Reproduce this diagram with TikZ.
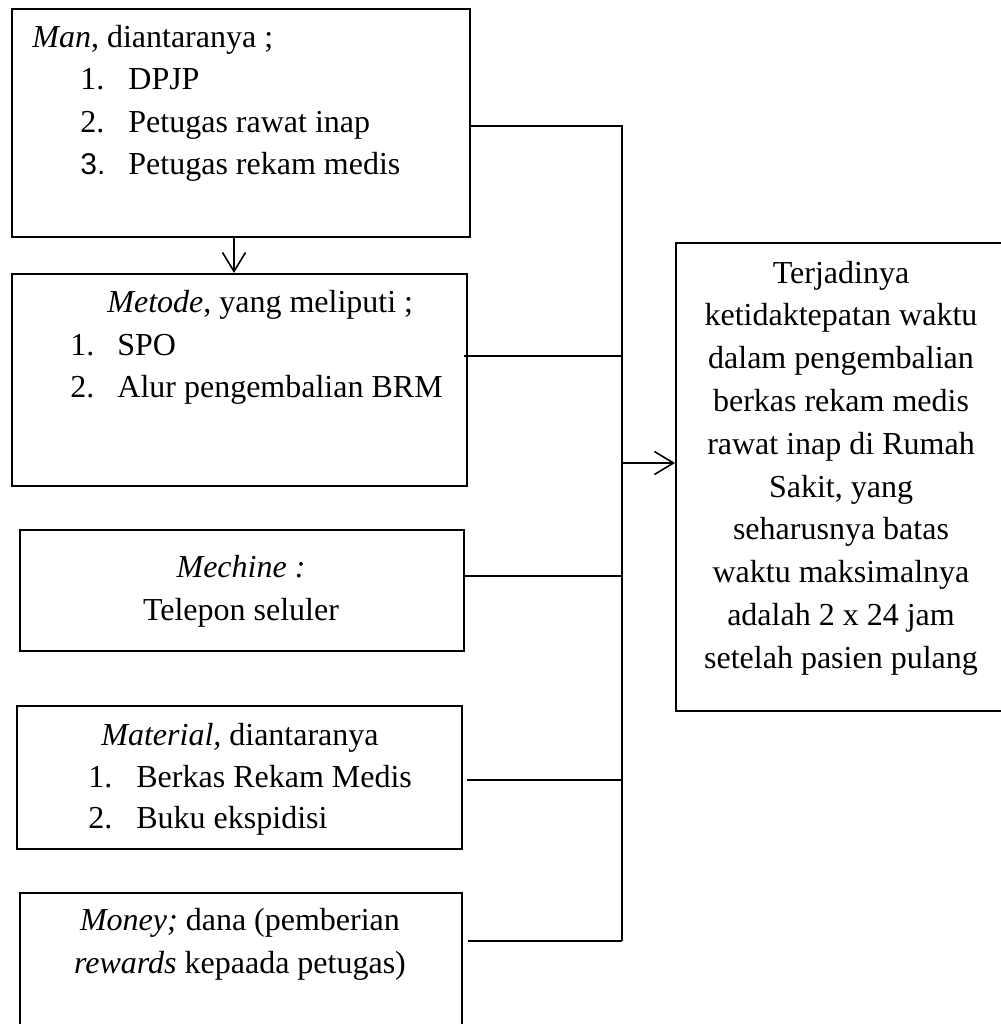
\documentclass[tikz,border=0pt]{standalone}
\usepackage{fontspec}
\setmainfont{Liberation Serif}
\newfontfamily\numsans{Liberation Sans}
\usetikzlibrary{arrows.meta}
\begin{document}
\begin{tikzpicture}[x=0.5pt,y=-0.5pt,
  every node/.style={font=\fontsize{16pt}{21.4pt}\selectfont},
  box/.style={draw, line width=0.75pt, inner sep=0pt, anchor=north west},
  txt/.style={inner sep=0pt, anchor=base west},
  ctxt/.style={inner sep=0pt, anchor=base},
  conn/.style={line width=0.75pt},
  arr/.style={line width=0.8pt, -{Straight Barb[length=9.5pt,width=11.5pt]}}]
\useasboundingbox (0,0) rectangle (1001,1024);

% boxes
\node[box, minimum width=229pt, minimum height=114pt] (man) at (11,8) {};
\node[box, minimum width=227.5pt, minimum height=106pt] (metode) at (11,273) {};
\node[box, minimum width=222pt, minimum height=60.5pt] (machine) at (19,529) {};
\node[box, minimum width=222.5pt, minimum height=71.5pt] (material) at (16,705) {};
\node[box, minimum width=221pt, minimum height=76pt] (money) at (19,892) {};
\node[box, minimum width=166.5pt, minimum height=234pt] (target) at (675,242) {};

% Man
\node[txt] (m0) at (32,47) {\textit{Man}, diantaranya ;};
\node[txt] (m1n) at (80,89.5) {1.};
\node[txt] (m1) at (128,89.5) {DPJP};
\node[txt] (m2n) at (80,132) {2.};
\node[txt] (m2) at (128,132) {Petugas rawat inap};
\node[txt] (m3n) at (80,174.5) {\numsans\fontsize{15pt}{18pt}\selectfont 3.};
\node[txt] (m3) at (128,174.5) {Petugas rekam medis};

% Metode
\node[txt] (k0) at (107,312) {\textit{Metode}, yang meliputi ;};
\node[txt] (k1n) at (70,355) {1.};
\node[txt] (k1) at (117,355) {SPO};
\node[txt] (k2n) at (70,397) {2.};
\node[txt] (k2) at (117,397) {Alur pengembalian BRM};

% Machine
\node[ctxt] (c0) at (241,577) {\textit{Mechine :}};
\node[ctxt] (c1) at (241,620) {Telepon seluler};

% Material
\node[txt] (a0) at (101,745) {\textit{Material,} diantaranya};
\node[txt] (a1n) at (88,787) {1.};
\node[txt] (a1) at (136,787) {Berkas Rekam Medis};
\node[txt] (a2n) at (88,828) {2.};
\node[txt] (a2) at (136,828) {Buku ekspidisi};

% Money
\node[ctxt] (y0) at (240,930) {\textit{Money;} dana (pemberian};
\node[ctxt] (y1) at (240,973) {\textit{rewards} kepaada petugas)};

% Target text
\foreach \t [count=\i from 0] in {Terjadinya,ketidaktepatan waktu,dalam pengembalian,berkas rekam medis,rawat inap di Rumah,{Sakit, yang},seharusnya batas,waktu maksimalnya,adalah 2 x 24 jam,setelah pasien pulang}
  \node[ctxt] (t\i) at (841,283+42.8*\i) {\t};

% connectors
\coordinate (b1) at (622,126);
\coordinate (b2) at (622,356);
\coordinate (b3) at (622,576);
\coordinate (b4) at (622,780);
\coordinate (b5) at (622,941);
\coordinate (ba) at (622,463);

\draw[arr] (man.south -| 234,0) -- (metode.north -| 234,0);
\draw[conn] (man.east |- b1) -- (b1) -- (b5);
\draw[conn] ([xshift=-2pt]metode.east |- b2) -- (b2);
\draw[conn] (machine.east |- b3) -- (b3);
\draw[conn] ([xshift=2pt]material.east |- b4) -- (b4);
\draw[conn] ([xshift=2.5pt]money.east |- b5) -- (b5);
\draw[arr] (ba) -- (target.west |- ba);
\end{tikzpicture}
\end{document}
